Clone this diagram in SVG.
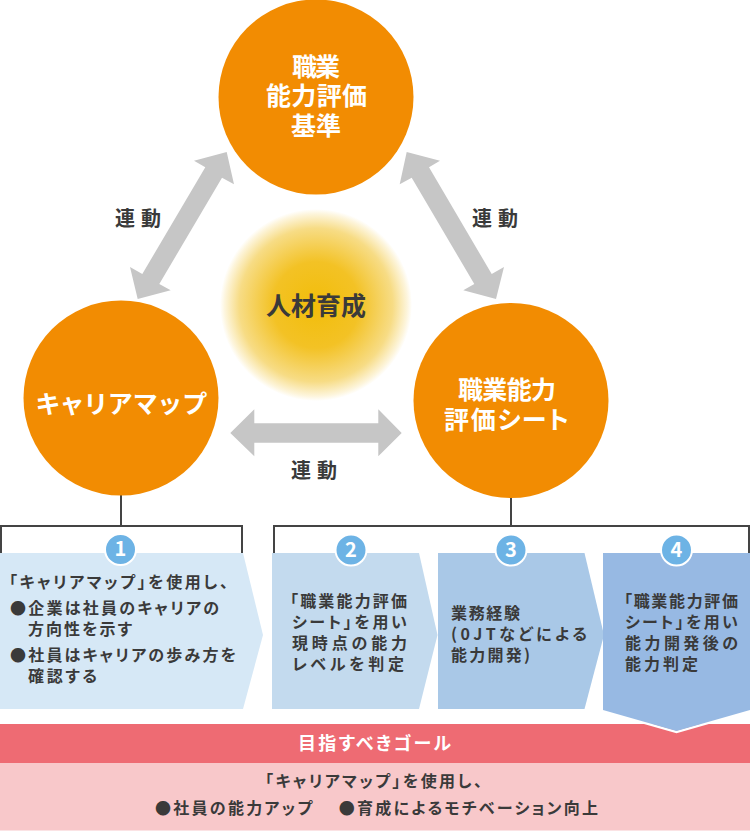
<svg xmlns="http://www.w3.org/2000/svg" width="750" height="831" viewBox="0 0 750 831">
<style>
text{font-family:"Noto Sans CJK JP","Noto Sans",sans-serif;font-feature-settings:"palt";fill:#3a3a3a;font-weight:700}
.c{fill:#f28c02}
.cl{fill:#fff;font-size:25px;font-weight:700;text-anchor:middle}
.ar{fill:#c6c6c6}
.ln{fill:none;stroke:#444;stroke-width:2}
.b{fill:#6db3e5;stroke:#fff;stroke-width:2}
.n{fill:#fff;font-size:20px;font-weight:700;text-anchor:middle}
.t{font-size:16px}
.u{font-size:20px;letter-spacing:6px}
.g{font-size:16px;text-anchor:middle}
</style>
<defs><radialGradient id="glow"><stop offset="0" stop-color="#f2bd0a"/><stop offset=".45" stop-color="#f3c225"/><stop offset=".8" stop-color="#f7dc85"/><stop offset=".95" stop-color="#fdf5dc"/><stop offset="1" stop-color="#fff"/></radialGradient></defs>
<rect width="750" height="831" fill="#fff"/>
<g id="connectors">
<path class="ar" d="M226.700 152L194 160.700L205.300 167.300L142.300 274L130 267L137.700 299L170.700 290.300L159.300 284L222 177.700L234 184.300Z"/>
<path class="ar" d="M406.700 152L440 160.700L429 167.300L491.700 274L504 267L496 299L463.300 290.300L474.300 284L411.700 177.700L399.700 184.300Z"/>
<path class="ar" d="M230.300 433L254.300 409.300V423.300H378.300V409.300L401.700 433L378.300 456.300V442.700H254.300V456.300Z"/>
<path class="ln" d="M121 495V526M1 553V526H242V553M511 495V526M274 553V526H749V553"/>
</g>
<g id="node-center"><circle cx="316" cy="305" r="96" fill="url(#glow)"/><text x="316" y="315" text-anchor="middle" font-size="25" font-weight="700">人材育成</text></g>
<g id="node-top"><circle class="c" cx="316" cy="97" r="97.500"/><text class="cl" x="316" y="76" textLength="48">職業</text><text class="cl" x="316.500" y="105" textLength="101">能力評価</text><text class="cl" x="316" y="135" textLength="50">基準</text></g>
<g id="node-left"><circle class="c" cx="121" cy="398" r="97.500"/><text class="cl" x="121" y="413" textLength="170">キャリアマップ</text></g>
<g id="node-right"><circle class="c" cx="511" cy="400.500" r="97.500"/><text class="cl" x="507" y="399" textLength="98">職業能力</text><text class="cl" x="506.500" y="429" textLength="125">評価シート</text></g>
<g id="label-left"><text class="u" x="115" y="226">連動</text></g>
<g id="label-right"><text class="u" x="472" y="226">連動</text></g>
<g id="label-bottom"><text class="u" x="291" y="478">連動</text></g>
<g id="goal"><rect y="724" width="750" height="39" fill="#ee6b73"/><rect y="763" width="750" height="67.500" fill="#f8c8ca"/>
<text x="374.500" y="750" text-anchor="middle" font-size="18" textLength="153" style="fill:#fff">目指すべきゴール</text>
<text class="g" x="373.500" y="787" textLength="217">「キャリアマップ」を使用し、</text>
<text class="g" x="376.500" y="814" textLength="443">●社員の能力アップ　 ●育成によるモチベーション向上</text></g>
<g id="step-1"><path fill="#d6e8f6" d="M0 553H243L263 635L243 709H0Z"/><circle class="b" cx="120.500" cy="549.500" r="15.500"/><text class="n" x="120.500" y="556">1</text>
<text class="t" x="9" y="588" textLength="219">「キャリアマップ」を使用し、</text><text class="t" x="10" y="614" textLength="209">●企業は社員のキャリアの</text><text class="t" x="28" y="635" textLength="104">方向性を示す</text><text class="t" x="10" y="661" textLength="226">●社員はキャリアの歩み方を</text><text class="t" x="28" y="682" textLength="69">確認する</text></g>
<g id="step-2"><path fill="#c3daee" d="M272 553H419L437.500 635L419 709H272Z"/><circle class="b" cx="351" cy="550" r="15.500"/><text class="n" x="351" y="557">2</text>
<text class="t" x="290" y="607" textLength="117">「職業能力評価</text><text class="t" x="292" y="628" textLength="115">シート」を用い</text><text class="t" x="292" y="649" textLength="115">現時点の能力</text><text class="t" x="292" y="670" textLength="112">レベルを判定</text></g>
<g id="step-3"><path fill="#a9c8e7" d="M438 553H584.500L604 635L584.500 709H438Z"/><circle class="b" cx="511" cy="550" r="15.500"/><text class="n" x="511" y="557">3</text>
<text class="t" x="451" y="619" textLength="69">業務経験</text><text class="t" x="451" y="640" textLength="136">(0JTなどによる</text><text class="t" x="451" y="661" textLength="79">能力開発)</text></g>
<g id="step-4"><path fill="none" stroke="#fff" stroke-width="2.500" d="M603 711L676.500 732L750 711"/><path fill="#97b9e3" d="M603 553H750V710L676.500 731L603 710Z"/><circle class="b" cx="676.500" cy="550" r="15.500"/><text class="n" x="676.500" y="557">4</text>
<text class="t" x="624" y="607" textLength="114">「職業能力評価</text><text class="t" x="625" y="628" textLength="113">シート」を用い</text><text class="t" x="625" y="649" textLength="113">能力開発後の</text><text class="t" x="625" y="670" textLength="73">能力判定</text></g>
</svg>
